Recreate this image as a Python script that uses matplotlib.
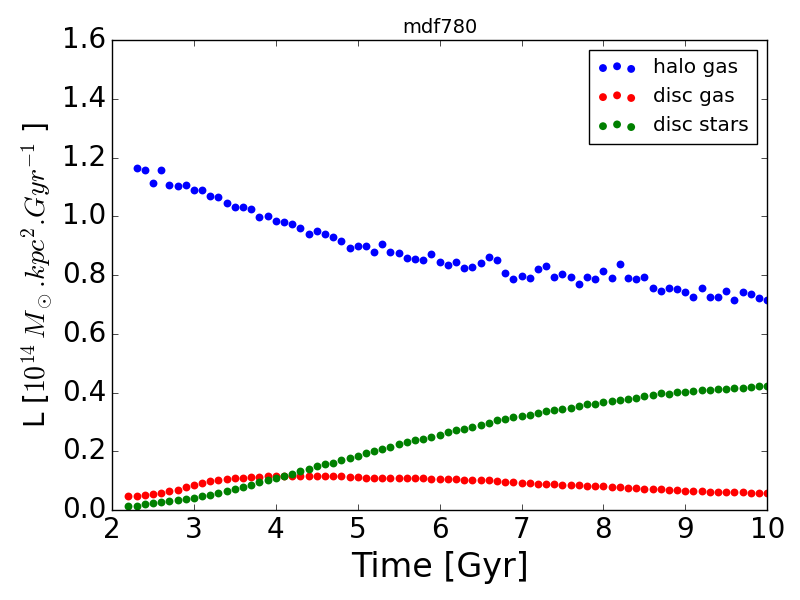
import matplotlib
matplotlib.use("Agg")
import matplotlib.pyplot as plt
import numpy as np

plt.style.use('classic')

# time grids [Gyr]
t_halo = np.round(np.arange(2.3, 10.05, 0.1), 1)
t_disc = np.round(np.arange(2.2, 10.05, 0.1), 1)

# angular momentum, units of 1e14 Msun kpc^2 / Gyr
halo_gas = [1.165, 1.157, 1.114, 1.157, 1.106, 1.104, 1.108, 1.089, 1.089, 1.070,
            1.066, 1.046, 1.031, 1.031, 1.025, 0.999, 1.002, 0.985, 0.981, 0.975,
            0.960, 0.941, 0.951, 0.941, 0.930, 0.917, 0.892, 0.900, 0.900, 0.879,
            0.907, 0.879, 0.876, 0.858, 0.855, 0.851, 0.873, 0.844, 0.835, 0.844,
            0.824, 0.827, 0.840, 0.862, 0.852, 0.808, 0.786, 0.797, 0.790, 0.820,
            0.832, 0.793, 0.804, 0.794, 0.771, 0.794, 0.786, 0.815, 0.791, 0.839,
            0.791, 0.786, 0.794, 0.756, 0.747, 0.756, 0.754, 0.743, 0.726, 0.756,
            0.726, 0.726, 0.747, 0.715, 0.743, 0.734, 0.722, 0.715]

disc_gas = [0.049, 0.049, 0.051, 0.055, 0.058, 0.065, 0.069, 0.078, 0.084, 0.091,
            0.098, 0.103, 0.107, 0.109, 0.110, 0.112, 0.114, 0.115, 0.116, 0.117,
            0.117, 0.116, 0.117, 0.117, 0.117, 0.116, 0.115, 0.114, 0.114, 0.110,
            0.110, 0.110, 0.110, 0.109, 0.110, 0.110, 0.109,
            0.106, 0.106, 0.106, 0.106, 0.103, 0.102, 0.102, 0.102, 0.099, 0.095,
            0.094, 0.093, 0.092, 0.089, 0.089, 0.089, 0.086, 0.085, 0.084, 0.083,
            0.083, 0.081, 0.078, 0.077, 0.076, 0.074, 0.073, 0.073, 0.072, 0.068,
            0.067, 0.066, 0.066, 0.065, 0.062, 0.062, 0.062, 0.061, 0.061, 0.059,
            0.059, 0.059]

disc_stars = [0.014, 0.014, 0.019, 0.023, 0.027, 0.031, 0.034, 0.039, 0.042, 0.048,
              0.052, 0.058, 0.065, 0.073, 0.079, 0.086, 0.095, 0.102, 0.109, 0.115,
              0.123, 0.132, 0.141, 0.149, 0.156, 0.161, 0.170, 0.178, 0.184, 0.193,
              0.202, 0.209, 0.216, 0.224, 0.230, 0.237, 0.243,
              0.250, 0.257, 0.264, 0.271, 0.277, 0.284, 0.291, 0.297, 0.305, 0.310,
              0.316, 0.321, 0.325, 0.331, 0.336, 0.342, 0.345, 0.348, 0.353, 0.360,
              0.362, 0.367, 0.370, 0.373, 0.377, 0.382, 0.387, 0.390, 0.397, 0.396,
              0.402, 0.403, 0.406, 0.410, 0.410, 0.412, 0.413, 0.415, 0.415, 0.419,
              0.422, 0.423]

fig = plt.figure(figsize=(8, 6), dpi=100, facecolor='white')
ax = fig.add_axes([0.14, 0.15, 0.819, 0.783])

ax.scatter(t_halo, halo_gas, s=32, c='b', linewidths=0, label='halo gas')
ax.scatter(t_disc, disc_gas, s=32, c='r', linewidths=0, label='disc gas')
ax.scatter(t_disc, disc_stars, s=32, c='g', linewidths=0, label='disc stars')

ax.set_xlim(2, 10)
ax.set_ylim(0, 1.6)
ax.tick_params(labelsize=20)
ax.set_xlabel('Time [Gyr]', fontsize=24)
ax.set_ylabel(r'L [$10^{14}\,M_\odot.\!kpc^2.\!Gyr^{-1}$ ]', fontsize=20)
ax.set_title('mdf780', fontsize=14)

ax.legend(loc='upper right', fontsize=14.5, scatterpoints=3)

fig.savefig('out.png', dpi=100, facecolor='white')
